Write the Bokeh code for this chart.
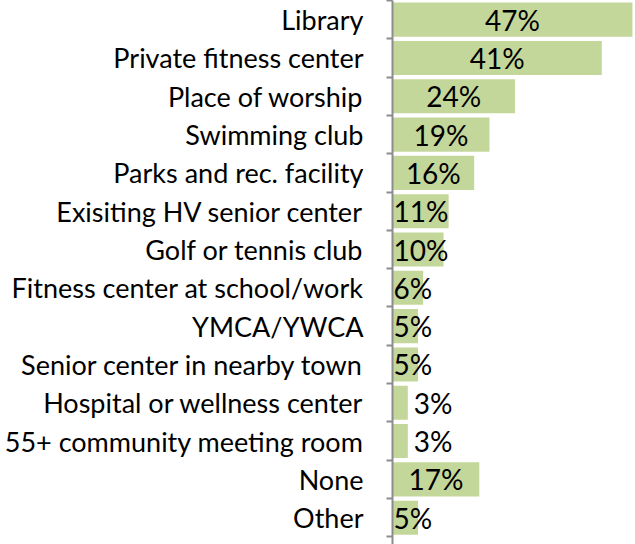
from bokeh.plotting import figure
from bokeh.models import ColumnDataSource, Range1d, FixedTicker
from bokeh.core.properties import value
from bokeh.embed import file_html
from bokeh.resources import INLINE

categories = ["Library", "Private fitness center", "Place of worship", "Swimming club",
              "Parks and rec. facility", "Exisiting HV senior center", "Golf or tennis club",
              "Fitness center at school/work", "YMCA/YWCA", "Senior center in nearby town",
              "Hospital or wellness center", "55+ community meeting room", "None", "Other"]
values = [47, 41, 24, 19, 16, 11, 10, 6, 5, 5, 3, 3, 17, 5]

n = len(categories)
ypos = [n - i - 0.5 for i in range(n)]
labels = [f"{v}%" for v in values]

src = ColumnDataSource(dict(y=ypos, v=values, lab=labels, cat=categories))
big = [i for i, v in enumerate(values) if v >= 12]
mid = [i for i, v in enumerate(values) if 4 <= v < 12]
small = [i for i, v in enumerate(values) if v < 4]
src_big = ColumnDataSource(dict(x=[values[i] / 2 for i in big], y=[ypos[i] for i in big],
                                lab=[labels[i] for i in big]))
src_mid = ColumnDataSource(dict(x=[0 for i in mid], y=[ypos[i] for i in mid],
                                lab=[labels[i] for i in mid]))
src_small = ColumnDataSource(dict(x=[values[i] for i in small], y=[ypos[i] for i in small],
                                  lab=[labels[i] for i in small]))

p = figure(width=635, height=544, output_backend="svg", toolbar_location=None,
           x_range=Range1d(0, 47.6), y_range=Range1d(-0.2, n),
           min_border_left=392, min_border_right=0, min_border_top=0, min_border_bottom=0)
p.outline_line_color = None
p.grid.visible = False
p.xaxis.visible = False
p.background_fill_color = "white"

p.hbar(y="y", right="v", left=0, height=0.89, source=src, color="#c4d79b", line_color=None)

font = value("Lato")
p.text(x="x", y="y", text="lab", source=src_big, text_align="center", text_baseline="middle",
       text_font=font, text_font_size="28px", text_color="black")
p.text(x="x", y="y", text="lab", source=src_mid, text_align="left", text_baseline="middle",
       x_offset=1, text_font=font, text_font_size="28px", text_color="black")
p.text(x="x", y="y", text="lab", source=src_small, text_align="left", text_baseline="middle",
       x_offset=6, text_font=font, text_font_size="28px", text_color="black")

ax = p.yaxis[0]
ax.ticker = FixedTicker(ticks=ypos, minor_ticks=list(range(0, n + 1)))
ax.major_label_overrides = {y: c for y, c in zip(ypos, categories)}
ax.major_tick_out = 0
ax.major_tick_in = 0
ax.minor_tick_out = 6
ax.minor_tick_in = 0
ax.minor_tick_line_color = "#8c8c8c"
ax.minor_tick_line_width = 2
ax.axis_line_color = "#8c8c8c"
ax.axis_line_width = 2
ax.major_label_standoff = 23
ax.major_label_text_font = "Lato"
ax.major_label_text_font_size = "27px"
ax.major_label_text_color = "black"

open("out.html", "w").write(file_html(p, INLINE))
